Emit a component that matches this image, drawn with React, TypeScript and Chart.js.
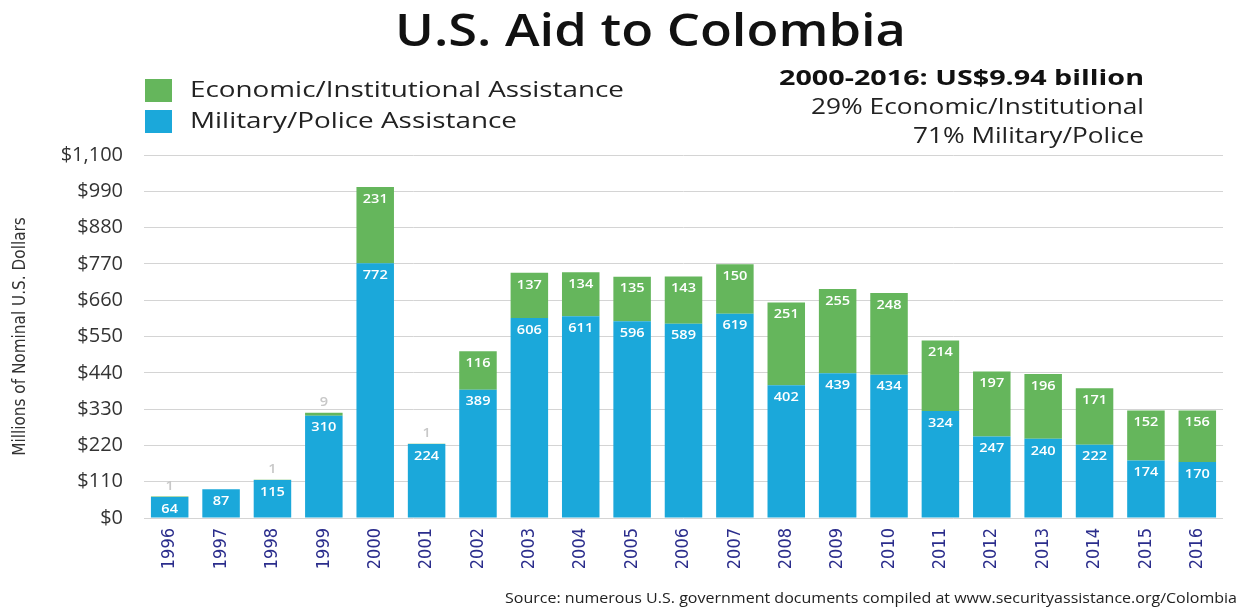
import React, { useEffect, useRef } from "react";
import { Chart, registerables } from "chart.js";

Chart.register(...registerables);

const years = ["1996","1997","1998","1999","2000","2001","2002","2003","2004","2005","2006","2007","2008","2009","2010","2011","2012","2013","2014","2015","2016"];
const military = [64, 87, 115, 310, 772, 224, 389, 606, 611, 596, 589, 619, 402, 439, 434, 324, 247, 240, 222, 174, 170];
const economic = [1, 0, 1, 9, 231, 1, 116, 137, 134, 135, 143, 150, 251, 255, 248, 214, 197, 196, 171, 152, 156];
const yTicks = [0, 110, 220, 330, 440, 550, 660, 770, 880, 990, 1100];

const title = "U.S. Aid to Colombia";
const legendLabels = ["Economic/Institutional Assistance", "Military/Police Assistance"];
const summaryLines = ["2000-2016: US$9.94 billion", "29% Economic/Institutional", "71% Military/Police"];
const sourceText = "Source: numerous U.S. government documents compiled at www.securityassistance.org/Colombia";
const yTitle = "Millions of Nominal U.S. Dollars";

const BLUE = "#1ba8da";
const GREEN = "#65b65c";
const MAIN_FONT = "'Open Sans', 'Noto Sans', sans-serif";
const NARROW_FONT = "'Liberation Sans Narrow', 'DejaVu Sans Condensed', 'Liberation Sans', sans-serif";

// Draw text stretched horizontally so that it spans the given width (the original uses a wide geometric face)
function fitText(ctx: any, text: string, x: number, y: number, width: number, align: "left" | "right" | "center") {
  ctx.save();
  const w = ctx.measureText(text).width;
  const sx = width / w;
  const left = align === "left" ? x : align === "right" ? x - width : x - width / 2;
  ctx.translate(left, y);
  ctx.scale(sx, 1);
  ctx.textAlign = "left";
  ctx.fillText(text, 0, 0);
  ctx.restore();
}

const annotations = {
  id: "annotations",
  afterDatasetsDraw(chart: any) {
    const ctx = chart.ctx;
    ctx.save();
    const mMeta = chart.getDatasetMeta(0);
    const eMeta = chart.getDatasetMeta(1);
    ctx.textBaseline = "middle";
    ctx.font = `600 13px ${MAIN_FONT}`;
    const draw = (t: string, x: number, y: number) => {
      const w = ctx.measureText(t).width * 1.12;
      fitText(ctx, t, x, y, w, "center");
    };
    mMeta.data.forEach((el: any, i: number) => {
      ctx.fillStyle = "#ffffff";
      draw(String(military[i]), el.x, el.y + 12);
    });
    eMeta.data.forEach((el: any, i: number) => {
      const v = economic[i];
      if (!v) return;
      if (v >= 50) {
        ctx.fillStyle = "#ffffff";
        draw(String(v), el.x, el.y + 12);
      } else {
        ctx.fillStyle = "#c8c8c8";
        draw(String(v), el.x, el.y - 10);
      }
    });
    ctx.restore();
  },
  afterDraw(chart: any) {
    const ctx = chart.ctx;
    ctx.save();
    // Title
    ctx.fillStyle = "#111";
    ctx.textBaseline = "alphabetic";
    ctx.font = `600 45px ${MAIN_FONT}`;
    fitText(ctx, title, 395, 46, 511, "left");
    // Legend
    const colors = [GREEN, BLUE];
    const legendW = [434, 327];
    ctx.textBaseline = "middle";
    ctx.font = `22px ${MAIN_FONT}`;
    legendLabels.forEach((lab, i) => {
      const y = 79 + i * 31;
      ctx.fillStyle = colors[i];
      ctx.fillRect(145, y, 27, 23);
      ctx.fillStyle = "#222";
      fitText(ctx, lab, 190, y + 12, legendW[i], "left");
    });
    // Summary
    ctx.fillStyle = "#111";
    ctx.font = `bold 21px ${MAIN_FONT}`;
    fitText(ctx, summaryLines[0], 1144, 79, 365, "right");
    ctx.fillStyle = "#222";
    ctx.font = `21px ${MAIN_FONT}`;
    fitText(ctx, summaryLines[1], 1144, 108, 333, "right");
    fitText(ctx, summaryLines[2], 1144, 137, 231, "right");
    // Source
    ctx.font = `14px ${MAIN_FONT}`;
    ctx.fillStyle = "#222";
    fitText(ctx, sourceText, 1237, 599, 732, "right");
    ctx.restore();
  },
};

export default function App() {
  const ref = useRef<HTMLCanvasElement | null>(null);
  useEffect(() => {
    if (!ref.current) return;
    const chart = new Chart(ref.current, {
      type: "bar",
      data: {
        labels: years,
        datasets: [
          { label: legendLabels[1], data: military, backgroundColor: BLUE, barPercentage: 0.73, categoryPercentage: 1 },
          { label: legendLabels[0], data: economic, backgroundColor: GREEN, barPercentage: 0.73, categoryPercentage: 1 },
        ],
      },
      options: {
        responsive: false,
        animation: false,
        layout: { padding: { top: 155, right: 16, left: 0, bottom: 0 } },
        plugins: { legend: { display: false }, title: { display: false }, tooltip: { enabled: false } },
        scales: {
          x: {
            stacked: true,
            grid: { display: false, drawTicks: false },
            border: { display: false },
            ticks: {
              minRotation: 90,
              maxRotation: 90,
              padding: 10,
              color: "#2b2d8c",
              font: { family: NARROW_FONT, size: 18 },
            },
            afterFit(scale: any) { scale.height = 90; },
          },
          y: {
            stacked: true,
            min: 0,
            max: 1100,
            afterBuildTicks(scale: any) { scale.ticks = yTicks.map((v) => ({ value: v })); },
            grid: { color: "#d4d4d4", lineWidth: 1, drawTicks: false },
            border: { display: false },
            ticks: {
              padding: 21,
              color: "#333",
              font: { family: MAIN_FONT, size: 20 },
              callback: (v: any) => "$" + Number(v).toLocaleString("en-US"),
            },
            title: {
              display: true,
              text: yTitle,
              color: "#333",
              padding: { top: 10, bottom: 4 },
              font: { family: NARROW_FONT, size: 17 },
            },
            afterFit(scale: any) { scale.width = 144; },
          },
        },
      },
      plugins: [annotations],
    });
    return () => chart.destroy();
  }, []);
  return (
    <div style={{ position: "fixed", left: 0, top: 0, width: 1239, height: 608, background: "#fff" }}>
      <canvas ref={ref} width={1239} height={608} style={{ display: "block" }} />
    </div>
  );
}
